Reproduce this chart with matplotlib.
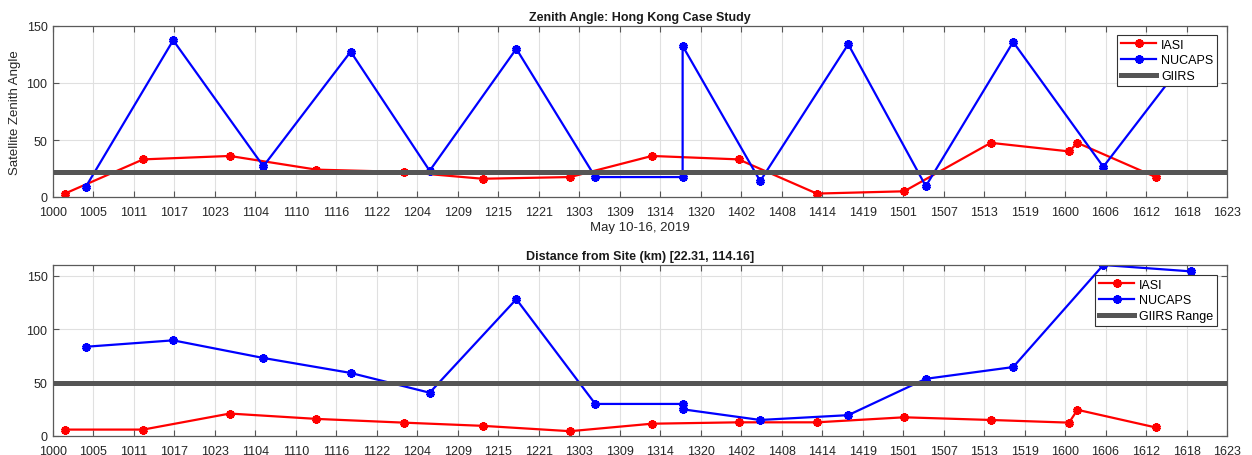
import matplotlib
matplotlib.use("Agg")
import matplotlib.pyplot as plt
import numpy as np

plt.rcParams['font.family'] = ['Liberation Sans', 'DejaVu Sans']

# hours since May 10, 00:00 (2019)
iasi_hours = [1.7, 12.9, 25.3, 37.7, 50.2, 61.5, 74.0, 85.7, 98.1, 109.3, 121.8, 134.2, 145.4, 146.6, 157.8]
iasi_zenith = [3, 33, 36, 24, 22, 16, 17.5, 36, 33, 3, 5, 47.5, 40, 47.5, 17.5]
iasi_dist = [6, 6, 21, 16, 12.5, 9.5, 4.5, 11.5, 12.8, 12.8, 17.5, 15, 12.5, 24.5, 8]

nucaps_hours = [4.7, 17.2, 30.1, 42.6, 53.9, 66.3, 77.6, 90.1, 90.1, 101.2, 113.8, 124.9, 137.4, 150.3, 162.9]
nucaps_zenith = [9, 137.5, 27, 127.5, 23, 130, 17.5, 17.5, 132.5, 14, 134, 9.5, 136, 26.5, 127]
nucaps_dist = [83.5, 89.5, 73, 59, 40.5, 128, 30, 30, 25, 15, 19.5, 53.5, 64.5, 160, 154]

giirs_zenith = 22
giirs_range = 50

tick_labels = ['1000', '1005', '1011', '1017', '1023', '1104', '1110', '1116', '1122', '1204',
               '1209', '1215', '1221', '1303', '1309', '1314', '1320', '1402', '1408', '1414',
               '1419', '1501', '1507', '1513', '1519', '1600', '1606', '1612', '1618', '1623']

fig = plt.figure(figsize=(12.52, 4.56), dpi=100)
ax1 = fig.add_axes([53/1252, 1-198/456, 1174/1252, 171/456])
ax2 = fig.add_axes([53/1252, 1-437/456, 1174/1252, 171/456])

axc = '#262626'
tick_pos = np.linspace(0, 168, len(tick_labels))

def style(ax, ylim, yticks):
    ax.set_xlim(0, 168)
    ax.set_ylim(*ylim)
    ax.set_xticks(tick_pos)
    ax.set_xticklabels(tick_labels)
    ax.set_yticks(yticks)
    ax.grid(True, color='#e0e0e0', linewidth=0.8)
    ax.set_axisbelow(True)
    ax.tick_params(direction='in', top=True, right=True, length=4, width=0.8,
                   labelsize=9, colors='#555555', labelcolor=axc)
    ax.tick_params(axis='x', pad=6.5)
    ax.tick_params(axis='y', pad=4)
    for s in ax.spines.values():
        s.set_color('#5a5a5a')
        s.set_linewidth(0.9)

kw = dict(marker=(6, 2, 0), markersize=6, markeredgewidth=2.4, linewidth=1.6)

ax1.plot(iasi_hours, iasi_zenith, color='red', label='IASI', **kw)
ax1.plot(nucaps_hours, nucaps_zenith, color='blue', label='NUCAPS', **kw)
ax1.axhline(giirs_zenith, color='#555555', linewidth=3.6, label='GIIRS')
style(ax1, (0, 150), [0, 50, 100, 150])
ax1.set_title('Zenith Angle: Hong Kong Case Study', fontsize=9, fontweight='bold', color='#1a1a1a', pad=4)
ax1.set_ylabel('Satellite Zenith Angle', fontsize=9.5, color=axc, labelpad=4)
ax1.set_xlabel('May 10-16, 2019', fontsize=9.5, color=axc, labelpad=2)

legkw = dict(loc='upper right', borderaxespad=0, fontsize=9, fancybox=False, framealpha=1,
             edgecolor='#333333', handlelength=2.8, borderpad=0.3, labelspacing=0.3,
             handletextpad=0.4)
leg1 = ax1.legend(bbox_to_anchor=(1-10/1174, 1-9/171), **legkw)
leg1.get_frame().set_linewidth(0.8)

ax2.plot(iasi_hours, iasi_dist, color='red', label='IASI', **kw)
ax2.plot(nucaps_hours, nucaps_dist, color='blue', label='NUCAPS', **kw)
ax2.axhline(giirs_range, color='#555555', linewidth=3.6, label='GIIRS Range')
style(ax2, (0, 160), [0, 50, 100, 150])
ax2.set_title('Distance from Site (km) [22.31, 114.16]', fontsize=9, fontweight='bold', color='#1a1a1a', pad=4)
leg2 = ax2.legend(bbox_to_anchor=(1-10/1174, 1-10/171), **legkw)
leg2.get_frame().set_linewidth(0.8)

fig.savefig('out.png', dpi=100, facecolor='white')
